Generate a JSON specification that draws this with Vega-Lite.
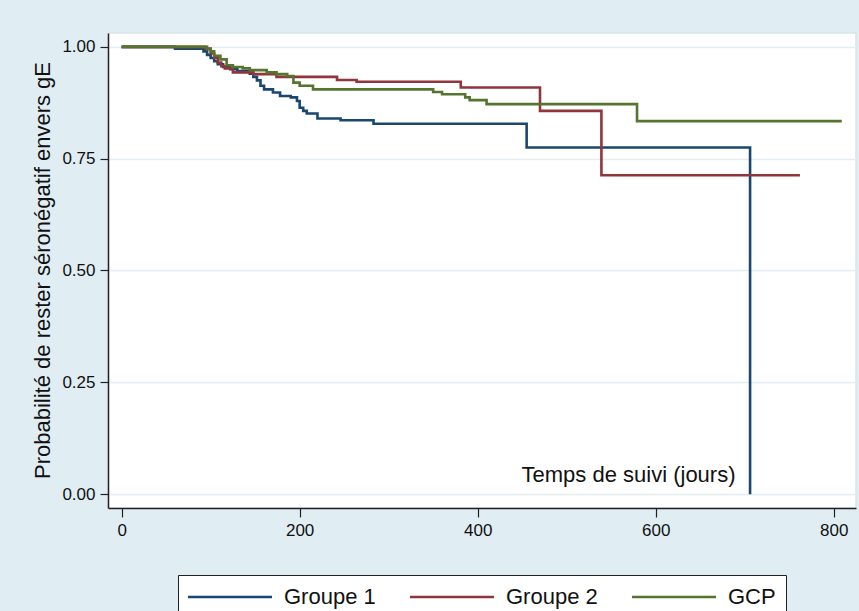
{
  "$schema": "https://vega.github.io/schema/vega-lite/v6.json",
  "width": 748,
  "height": 475,
  "autosize": {"type": "none"},
  "padding": {"left": 108, "top": 33, "right": 3, "bottom": 103},
  "background": "#e0eef3",
  "config": {
    "font": "Liberation Sans",
    "view": {"fill": "white", "stroke": "#d8e6ec", "strokeWidth": 1.5},
    "axis": {"labelColor": "#111", "titleColor": "#111", "domainColor": "#222", "tickColor": "#222", "domainWidth": 1.5, "tickWidth": 1.2, "titleFontWeight": "normal"}
  },
  "data": {
    "values": [
      {"groupe": "Groupe 1", "t": 0, "s": 1.0},
      {"groupe": "Groupe 1", "t": 60, "s": 0.996},
      {"groupe": "Groupe 1", "t": 92, "s": 0.99},
      {"groupe": "Groupe 1", "t": 96, "s": 0.982},
      {"groupe": "Groupe 1", "t": 100, "s": 0.975},
      {"groupe": "Groupe 1", "t": 104, "s": 0.968},
      {"groupe": "Groupe 1", "t": 108, "s": 0.961},
      {"groupe": "Groupe 1", "t": 114, "s": 0.955},
      {"groupe": "Groupe 1", "t": 122, "s": 0.95},
      {"groupe": "Groupe 1", "t": 130, "s": 0.946},
      {"groupe": "Groupe 1", "t": 144, "s": 0.94},
      {"groupe": "Groupe 1", "t": 148, "s": 0.933},
      {"groupe": "Groupe 1", "t": 152, "s": 0.925},
      {"groupe": "Groupe 1", "t": 156, "s": 0.913},
      {"groupe": "Groupe 1", "t": 160, "s": 0.905},
      {"groupe": "Groupe 1", "t": 170, "s": 0.898},
      {"groupe": "Groupe 1", "t": 178, "s": 0.89},
      {"groupe": "Groupe 1", "t": 190, "s": 0.887},
      {"groupe": "Groupe 1", "t": 197, "s": 0.879},
      {"groupe": "Groupe 1", "t": 200, "s": 0.864},
      {"groupe": "Groupe 1", "t": 204, "s": 0.857},
      {"groupe": "Groupe 1", "t": 208, "s": 0.851},
      {"groupe": "Groupe 1", "t": 220, "s": 0.84},
      {"groupe": "Groupe 1", "t": 246, "s": 0.836},
      {"groupe": "Groupe 1", "t": 283, "s": 0.828},
      {"groupe": "Groupe 1", "t": 455, "s": 0.775},
      {"groupe": "Groupe 1", "t": 706, "s": 0.0},
      {"groupe": "Groupe 2", "t": 0, "s": 1.0},
      {"groupe": "Groupe 2", "t": 94, "s": 0.996},
      {"groupe": "Groupe 2", "t": 100, "s": 0.985},
      {"groupe": "Groupe 2", "t": 104, "s": 0.976},
      {"groupe": "Groupe 2", "t": 108, "s": 0.965},
      {"groupe": "Groupe 2", "t": 112, "s": 0.957},
      {"groupe": "Groupe 2", "t": 116, "s": 0.952},
      {"groupe": "Groupe 2", "t": 125, "s": 0.943},
      {"groupe": "Groupe 2", "t": 148, "s": 0.939},
      {"groupe": "Groupe 2", "t": 174, "s": 0.933},
      {"groupe": "Groupe 2", "t": 242, "s": 0.926},
      {"groupe": "Groupe 2", "t": 264, "s": 0.922},
      {"groupe": "Groupe 2", "t": 381, "s": 0.909},
      {"groupe": "Groupe 2", "t": 470, "s": 0.857},
      {"groupe": "Groupe 2", "t": 539, "s": 0.713},
      {"groupe": "Groupe 2", "t": 762, "s": 0.713},
      {"groupe": "GCP", "t": 0, "s": 1.0},
      {"groupe": "GCP", "t": 96, "s": 0.995},
      {"groupe": "GCP", "t": 100, "s": 0.99},
      {"groupe": "GCP", "t": 104, "s": 0.98},
      {"groupe": "GCP", "t": 111, "s": 0.972},
      {"groupe": "GCP", "t": 118, "s": 0.959},
      {"groupe": "GCP", "t": 125, "s": 0.955},
      {"groupe": "GCP", "t": 136, "s": 0.952},
      {"groupe": "GCP", "t": 144, "s": 0.948},
      {"groupe": "GCP", "t": 163, "s": 0.943},
      {"groupe": "GCP", "t": 174, "s": 0.939},
      {"groupe": "GCP", "t": 186, "s": 0.935},
      {"groupe": "GCP", "t": 193, "s": 0.92},
      {"groupe": "GCP", "t": 200, "s": 0.913},
      {"groupe": "GCP", "t": 215, "s": 0.905},
      {"groupe": "GCP", "t": 350, "s": 0.899},
      {"groupe": "GCP", "t": 360, "s": 0.894},
      {"groupe": "GCP", "t": 386, "s": 0.887},
      {"groupe": "GCP", "t": 391, "s": 0.881},
      {"groupe": "GCP", "t": 410, "s": 0.872},
      {"groupe": "GCP", "t": 579, "s": 0.834},
      {"groupe": "GCP", "t": 809, "s": 0.834}
    ]
  },
  "mark": {"type": "line", "interpolate": "step-after", "strokeWidth": 2.6},
  "encoding": {
    "x": {
      "field": "t", "type": "quantitative",
      "scale": {"domain": [-15.3, 825], "nice": false, "zero": false},
      "axis": {
        "values": [0, 200, 400, 600, 800], "grid": false,
        "title": "Temps de suivi (jours)", "titleFontSize": 22,
        "titleX": 627, "titleY": -34, "titleAlign": "right", "titleBaseline": "middle", "titleAnchor": null,
        "labelFontSize": 17, "tickSize": 9, "labelPadding": 5, "labelFlush": false
      }
    },
    "y": {
      "field": "s", "type": "quantitative",
      "scale": {"domain": [-0.031, 1.031], "nice": false, "zero": false},
      "axis": {
        "values": [0, 0.25, 0.5, 0.75, 1], "format": ".2f", "grid": true,
        "gridColor": "#e2eef2", "gridWidth": 1.5,
        "title": "Probabilité de rester séronégatif envers gE", "titleFontSize": 22,
        "titleX": -66, "titleY": 237, "titleAlign": "center", "titleBaseline": "middle", "titleAngle": -90,
        "labelFontSize": 17, "tickSize": 8, "labelPadding": 5, "labelFlush": false
      }
    },
    "color": {
      "field": "groupe", "type": "nominal",
      "scale": {"domain": ["Groupe 1", "Groupe 2", "GCP"], "range": ["#1a476f", "#90353b", "#55752f"]},
      "legend": {
        "title": null, "orient": "none", "legendX": 70, "legendY": 542,
        "direction": "horizontal", "columns": 3, "columnPadding": 34,
        "padding": 10, "clipHeight": 24,
        "fillColor": "white", "strokeColor": "#222",
        "symbolType": "M-10,0H10", "symbolSize": 70.56, "symbolStrokeWidth": 2.6, "symbolOffset": 31,
        "labelOffset": 43, "labelFontSize": 22, "labelColor": "#111"
      }
    }
  }
}
